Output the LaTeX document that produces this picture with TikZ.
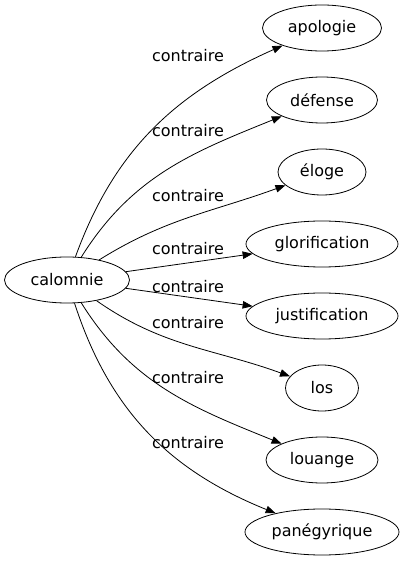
\documentclass[tikz,border=0pt]{standalone}
\usepackage{fontspec}
\setmainfont{DejaVu Sans}
\usetikzlibrary{shapes.geometric,arrows.meta}

\begin{document}
\begin{tikzpicture}[x=1pt,y=1pt,line width=0.8pt,
        mot/.style={draw, ellipse, inner sep=0pt, minimum height=46pt,
            font=\fontsize{16}{19}\selectfont},
        lien/.style={font=\fontsize{16}{19}\selectfont, inner sep=0pt}]
    \useasboundingbox (0,0) rectangle (407,563);
    \node[mot, minimum width=125pt] (calomnie) at (67,283) {calomnie};
    \node[mot, minimum width=119pt] (apologie) at (322,535) {apologie};
    \node[mot, minimum width=111pt] (defense) at (322,463) {défense};
    \node[mot, minimum width=88pt] (eloge) at (322,391) {éloge};
    \node[mot, minimum width=152pt] (glorification) at (322,319) {glorification};
    \node[mot, minimum width=152pt] (justification) at (322,247) {justification};
    \node[mot, minimum width=73pt] (los) at (322,175) {los};
    \node[mot, minimum width=112pt] (louange) at (322,103) {louange};
    \node[mot, minimum width=154pt] (panegyrique) at (322,31) {panégyrique};
    \path[-{Triangle[length=10pt,width=7.5pt]}]
    (calomnie) edge[out=70, in=204] (apologie)
               edge[out=58, in=202] (defense)
               edge[out=32, in=200] (eloge)
               edge (glorification)
               edge (justification)
               edge[out=-35, in=160] (los)
               edge[out=-58, in=158] (louange)
               edge[out=-72, in=158] (panegyrique);
    \node[lien] (l1) at (188,507) {contraire};
    \node[lien] (l2) at (188,432) {contraire};
    \node[lien] (l3) at (188,367) {contraire};
    \node[lien] (l4) at (188,314) {contraire};
    \node[lien] (l5) at (188,276) {contraire};
    \node[lien] (l6) at (188,240) {contraire};
    \node[lien] (l7) at (188,185) {contraire};
    \node[lien] (l8) at (188,120) {contraire};
\end{tikzpicture}
\end{document}
